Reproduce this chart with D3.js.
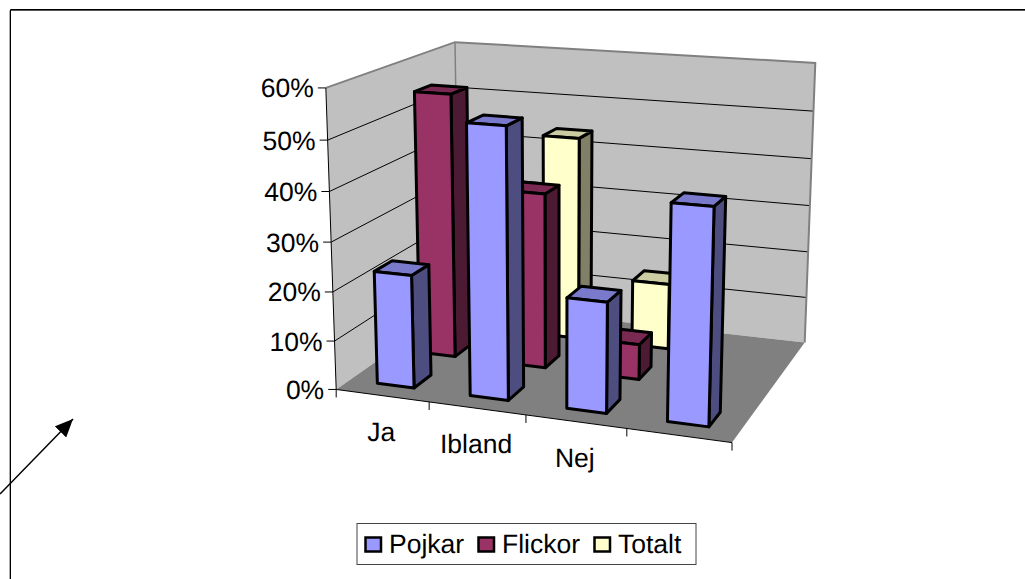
<!DOCTYPE html>
<html><head><meta charset="utf-8">
<script src="https://cdn.jsdelivr.net/npm/d3@7/dist/d3.min.js"></script>
<style>html,body{margin:0;padding:0;background:#fff}svg{display:block}text{font-family:"Liberation Sans",Arial,sans-serif;fill:#000;text-rendering:geometricPrecision}</style>
</head><body><svg id="c" width="1025" height="579"></svg>
<script>
const categories = ["Ja","Ibland","Nej",""];
const seriesNames = ["Pojkar","Flickor","Totalt"];
const pojkar = [0.231,0.54,0.22,0.421];
const flickor = [0.552,0.364,0.073,null];
const totalt = [0.39,0.437,0.141,null];
const valueTicks = [0,0.1,0.2,0.3,0.4,0.5,0.6];
const seriesColors = ["#9999FF","#993366","#FFFFCC"];
const seriesValues = [pojkar,flickor,totalt];

// camera fit from plot-box corners: [u,d,h] -> [x,y]
const corners = [
 [[0,0,0],[337,389]],[[1,0,0],[732,443]],[[1,1,0],[805,342]],[[0,1,0],[458,304]],
 [[0,0,1],[325,88]],[[0,1,1],[456,42]],[[1,1,1],[815,63]]];
function fitCamera(pts){
  const rows=[],rhs=[];
  pts.forEach(([[u,d,h],[x,y]])=>{
    rows.push([u,d,h,1,0,0,0,0,-x*u,-x*d,-x*h]);rhs.push(x);
    rows.push([0,0,0,0,u,d,h,1,-y*u,-y*d,-y*h]);rhs.push(y);
  });
  const n=11,A=d3.range(n).map(i=>{const r=d3.range(n).map(j=>d3.sum(rows,(w)=>w[i]*w[j]));r.push(d3.sum(rows,(w,k)=>w[i]*rhs[k]));return r;});
  for(let i=0;i<n;i++){
    let p=i;for(let k=i+1;k<n;k++)if(Math.abs(A[k][i])>Math.abs(A[p][i]))p=k;
    [A[i],A[p]]=[A[p],A[i]];
    for(let k=0;k<n;k++)if(k!==i){const f=A[k][i]/A[i][i];for(let j=i;j<=n;j++)A[k][j]-=f*A[i][j];}
  }
  return A.map((r,i)=>r[n]/r[i]);
}
const P=fitCamera(corners);
const proj=(u,d,h)=>{const w=P[8]*u+P[9]*d+P[10]*h+1;return [(P[0]*u+P[1]*d+P[2]*h+P[3])/w,(P[4]*u+P[5]*d+P[6]*h+P[7])/w];};

const uScale=d3.scaleBand().domain(d3.range(categories.length)).range([0,1]);
const dScale=d3.scaleBand().domain(d3.range(seriesNames.length)).range([0,1]);
const hScale=d3.scaleLinear().domain([0,0.6]).range([0,1]);
const gap=0.3; // inset of a bar inside its slot (gap width 150%)
const FS=26.5;

const svg=d3.select("#c");
const line=d3.line();
const poly=(g,pts,fill,stroke,sw)=>g.append("path").attr("d",line(pts)+"Z").attr("fill",fill).attr("stroke",stroke||"none").attr("stroke-width",sw||0).attr("stroke-linejoin","round");

// page frame
svg.append("path").attr("d","M10,579V10.5H1025").attr("fill","none").attr("stroke","#555").attr("stroke-width",1);
svg.append("path").attr("d","M10.5,579V9.5H1025").attr("fill","none").attr("stroke","#000").attr("stroke-width",1);

// arrow
svg.append("defs").append("marker").attr("id","ah").attr("markerUnits","userSpaceOnUse").attr("markerWidth",20).attr("markerHeight",16).attr("refX",18).attr("refY",8).attr("orient","auto")
  .append("path").attr("d","M0,0L18,8L0,16Z").attr("fill","#000");
svg.append("line").attr("x1",0).attr("y1",494).attr("x2",73).attr("y2",419).attr("stroke","#000").attr("stroke-width",1.5).attr("marker-end","url(#ah)");

const g=svg.append("g");
// floor and walls
poly(g,[proj(0,0,0),proj(0,1,0),proj(0,1,1),proj(0,0,1)],"#C0C0C0");
poly(g,[proj(0,1,0),proj(1,1,0),proj(1,1,1),proj(0,1,1)],"#C0C0C0");
poly(g,[proj(0,0,0),proj(1,0,0),proj(1,1,0),proj(0,1,0)],"#808080");

// gridlines
valueTicks.filter(v=>v>0&&v<0.6).forEach(v=>{
  const h=hScale(v);
  g.append("path").attr("d",line([proj(0,0,h),proj(0,1,h),proj(1,1,h)])).attr("fill","none").attr("stroke","#000").attr("stroke-width",1);
});
// wall edges
g.append("path").attr("d",line([proj(0,0,1),proj(0,1,1),proj(1,1,1),proj(1,1,0)])).attr("fill","none").attr("stroke","#808080").attr("stroke-width",2);
g.append("path").attr("d",line([proj(0,1,0),proj(0,1,1)])).attr("fill","none").attr("stroke","#808080").attr("stroke-width",1.5);

// axes
g.append("path").attr("d",line([proj(0,0,0),proj(0,0,1)])).attr("fill","none").attr("stroke","#000").attr("stroke-width",1);
g.append("path").attr("d",line([proj(0,0,0),proj(1,0,0)])).attr("fill","none").attr("stroke","#000").attr("stroke-width",1);
valueTicks.forEach(v=>{
  const [x,y]=proj(0,0,hScale(v));
  g.append("line").attr("x1",x-8).attr("x2",x).attr("y1",y).attr("y2",y).attr("stroke","#000");
  g.append("text").attr("x",x-12).attr("y",y+9.5).attr("text-anchor","end").attr("font-size",FS).text(d3.format(".0%")(v));
});
d3.range(categories.length+1).forEach(i=>{
  const [x,y]=proj(i/categories.length,0,0);
  g.append("line").attr("x1",x).attr("x2",x).attr("y1",y).attr("y2",y+8).attr("stroke","#000");
});
categories.forEach((c,i)=>{
  const [x,y]=proj(uScale(i)+uScale.bandwidth()/2,0,0);
  g.append("text").attr("x",x-1).attr("y",y+45).attr("text-anchor","middle").attr("font-size",FS).text(c);
});

// bars back to front
const shade=(c,k)=>{const r=d3.rgb(c);return d3.rgb(r.r*k,r.g*k,r.b*k).formatHex();};
[2,1,0].forEach(s=>{
  seriesValues[s].forEach((v,i)=>{
    if(v==null)return;
    const u0=uScale(i)+uScale.bandwidth()*gap,u1=uScale(i)+uScale.bandwidth()*(1-gap);
    const d0=dScale(s)+dScale.bandwidth()*gap,d1=dScale(s)+dScale.bandwidth()*(1-gap);
    const h=hScale(v),c=seriesColors[s];
    const b=g.append("g");
    poly(b,[proj(u1,d0,0),proj(u1,d1,0),proj(u1,d1,h),proj(u1,d0,h)],shade(c,0.5),"#000",3);
    poly(b,[proj(u0,d0,h),proj(u1,d0,h),proj(u1,d1,h),proj(u0,d1,h)],shade(c,0.8),"#000",3);
    poly(b,[proj(u0,d0,0),proj(u1,d0,0),proj(u1,d0,h),proj(u0,d0,h)],c,"#000",3);
  });
});

// legend
const lg=svg.append("g");
lg.append("rect").attr("x",357).attr("y",523.5).attr("width",339).attr("height",41).attr("fill","#fff").attr("stroke","#444").attr("stroke-width",1);
const swatchX=[365.5,478.5,594.5];
seriesNames.forEach((n,i)=>{
  lg.append("rect").attr("x",swatchX[i]).attr("y",537.5).attr("width",15.5).attr("height",14).attr("fill",seriesColors[i]).attr("stroke","#000").attr("stroke-width",2.5);
  lg.append("text").attr("x",swatchX[i]+23.5).attr("y",553).attr("font-size",FS).text(n);
});
</script></body></html>
